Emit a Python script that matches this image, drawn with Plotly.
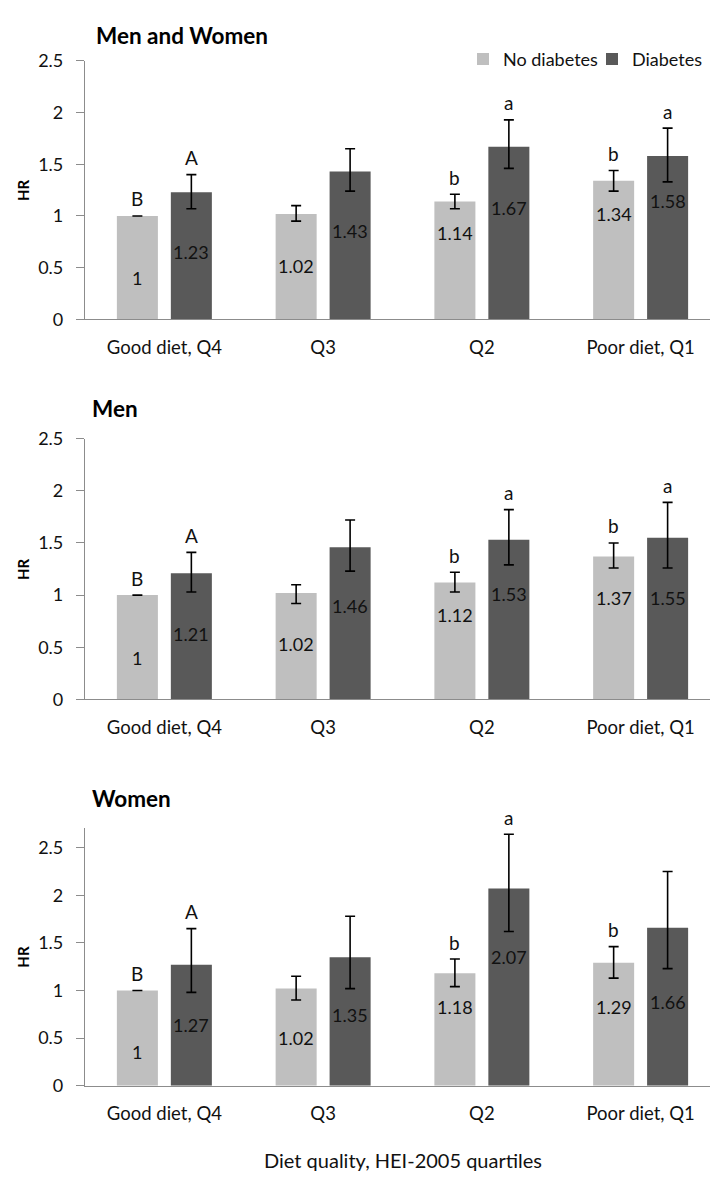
import plotly.graph_objects as go

# ---------------- data ----------------
categories = ["Good diet, Q4", "Q3", "Q2", "Poor diet, Q1"]
series_names = ["No diabetes", "Diabetes"]
panel_titles = ["Men and Women", "Men", "Women"]

# Men and Women
mw_nodiab = [1.00, 1.02, 1.14, 1.34]
mw_nodiab_lo = [1.00, 0.95, 1.07, 1.24]
mw_nodiab_hi = [1.00, 1.10, 1.21, 1.44]
mw_diab = [1.23, 1.43, 1.67, 1.58]
mw_diab_lo = [1.07, 1.24, 1.46, 1.33]
mw_diab_hi = [1.40, 1.65, 1.93, 1.85]
mw_nodiab_letters = ["B", "", "b", "b"]
mw_diab_letters = ["A", "", "a", "a"]

# Men
m_nodiab = [1.00, 1.02, 1.12, 1.37]
m_nodiab_lo = [1.00, 0.92, 1.03, 1.26]
m_nodiab_hi = [1.00, 1.10, 1.22, 1.50]
m_diab = [1.21, 1.46, 1.53, 1.55]
m_diab_lo = [1.03, 1.23, 1.29, 1.26]
m_diab_hi = [1.41, 1.72, 1.82, 1.89]
m_nodiab_letters = ["B", "", "b", "b"]
m_diab_letters = ["A", "", "a", "a"]

# Women
w_nodiab = [1.00, 1.02, 1.18, 1.29]
w_nodiab_lo = [1.00, 0.90, 1.04, 1.13]
w_nodiab_hi = [1.00, 1.15, 1.33, 1.46]
w_diab = [1.27, 1.35, 2.07, 1.66]
w_diab_lo = [0.98, 1.02, 1.62, 1.23]
w_diab_hi = [1.65, 1.78, 2.64, 2.25]
w_nodiab_letters = ["B", "", "b", "b"]
w_diab_letters = ["A", "", "a", ""]

x_title = "Diet quality, HEI-2005 quartiles"
y_title = "HR"

# ---------------- styling / layout ----------------
W, H = 718, 1178
FONT = "Lato"
LIGHT = "#BFBFBF"
DARK = "#595959"
AXIS = "#8C8C8C"
TXT = "#111111"

def px_x(p):
    return p / W

def px_y(p):
    return 1 - p / H

# panel pixel geometry (top of range, zero line)
panels = [
    dict(title=panel_titles[0], top=41.7, bottom=305, ymax=2.5, title_y=16, title_x=86,
         nd=mw_nodiab, nd_lo=mw_nodiab_lo, nd_hi=mw_nodiab_hi, d=mw_diab, d_lo=mw_diab_lo, d_hi=mw_diab_hi,
         ndl=mw_nodiab_letters, dl=mw_diab_letters,
         nd_shift=[-62, -52, -32, -33], d_shift=[-60, -59, -61, -45]),
    dict(title=panel_titles[1], top=426.7, bottom=692.3, ymax=2.5, title_y=396, title_x=82,
         nd=m_nodiab, nd_lo=m_nodiab_lo, nd_hi=m_nodiab_hi, d=m_diab, d_lo=m_diab_lo, d_hi=m_diab_hi,
         ndl=m_nodiab_letters, dl=m_diab_letters,
         nd_shift=[-63, -51, -32, -41], d_shift=[-61, -59, -54, -60]),
    dict(title=panel_titles[2], top=823, bottom=1086, ymax=2.71, title_y=793, title_x=82,
         nd=w_nodiab, nd_lo=w_nodiab_lo, nd_hi=w_nodiab_hi, d=w_diab, d_lo=w_diab_lo, d_hi=w_diab_hi,
         ndl=w_nodiab_letters, dl=w_diab_letters,
         nd_shift=[-62, -49, -34, -44], d_shift=[-60, -58, -68, -74]),
]

X_LEFT, X_RIGHT = 77, 712
BAR_OFFSET = 27
LETTER_SHIFT = 17

fig = go.Figure()
annotations = []
layout_axes = {}

for i, p in enumerate(panels):
    k = "" if i == 0 else str(i + 1)
    xa, ya = "x" + k, "y" + k
    for s, (name, vals, lo, hi, color) in enumerate([
        (series_names[0], p["nd"], p["nd_lo"], p["nd_hi"], LIGHT),
        (series_names[1], p["d"], p["d_lo"], p["d_hi"], DARK),
    ]):
        fig.add_trace(go.Bar(
            x=categories, y=vals, name=name, marker=dict(color=color, line=dict(width=0)),
            error_y=dict(type="data", symmetric=False,
                         array=[h - v for h, v in zip(hi, vals)],
                         arrayminus=[v - l for l, v in zip(lo, vals)],
                         color="#000000", thickness=1.6, width=5),
            xaxis=xa, yaxis=ya, showlegend=(i == 0), legendgroup=name,
            legend=("legend" if s == 0 else "legend2"),
            hoverinfo="skip",
        ))
    layout_axes["xaxis" + k] = dict(
        domain=[px_x(X_LEFT), px_x(X_RIGHT)], anchor=ya, type="category",
        showline=True, linecolor=AXIS, linewidth=1.2, ticks="", showgrid=False,
        tickfont=dict(family=FONT, size=18.5, color=TXT), ticklabelstandoff=11,
        zeroline=False,
    )
    layout_axes["yaxis" + k] = dict(
        domain=[px_y(p["bottom"]), px_y(p["top"])], anchor=xa,
        range=[0, p["ymax"]], dtick=0.5, tick0=0,
        showline=True, linecolor=AXIS, linewidth=1.2, ticks="outside", ticklen=8,
        tickcolor=AXIS, tickwidth=1.2, showgrid=False, zeroline=False,
        tickfont=dict(family=FONT, size=18, color=TXT), ticklabelstandoff=9,
    )
    # panel title
    annotations.append(dict(text="<b>%s</b>" % p["title"], xref="paper", yref="paper",
                            x=px_x(p["title_x"]), y=px_y(p["title_y"]), xanchor="left", yanchor="middle",
                            showarrow=False, font=dict(family=FONT, size=22.5, color="#000")))
    # y title
    annotations.append(dict(text="<b>%s</b>" % y_title, xref="paper", yref=ya + " domain",
                            x=px_x(15), y=0.5, xanchor="center", yanchor="middle", textangle=-90,
                            showarrow=False, font=dict(family=FONT, size=15, color="#000")))
    # value labels and letters
    for j, c in enumerate(categories):
        for vals, hi, letters, shifts, xs in [
            (p["nd"], p["nd_hi"], p["ndl"], p["nd_shift"], -BAR_OFFSET),
            (p["d"], p["d_hi"], p["dl"], p["d_shift"], BAR_OFFSET),
        ]:
            annotations.append(dict(text=("%g" % vals[j]), xref=xa, yref=ya, x=c, y=vals[j],
                                    xshift=xs, yshift=shifts[j], showarrow=False,
                                    xanchor="center", yanchor="middle",
                                    font=dict(family=FONT, size=18, color=TXT)))
            if letters[j]:
                annotations.append(dict(text=letters[j], xref=xa, yref=ya, x=c, y=hi[j],
                                        xshift=xs, yshift=LETTER_SHIFT, showarrow=False,
                                        xanchor="center", yanchor="middle",
                                        font=dict(family=FONT, size=19, color=TXT)))

# x axis title
annotations.append(dict(text=x_title, xref="paper", yref="paper",
                        x=px_x((X_LEFT + X_RIGHT) / 2), y=px_y(1162), xanchor="center", yanchor="middle",
                        showarrow=False, font=dict(family=FONT, size=20, color=TXT)))

legend_style = dict(orientation="h", yanchor="middle", y=px_y(40), xanchor="left",
                    font=dict(family=FONT, size=18, color=TXT), itemwidth=30,
                    bgcolor="rgba(0,0,0,0)", borderwidth=0)

fig.update_layout(
    width=W, height=H, margin=dict(l=0, r=0, t=0, b=0),
    paper_bgcolor="white", plot_bgcolor="white",
    barmode="group", bargap=0.32, bargroupgap=0.24,
    showlegend=True,
    legend=dict(x=px_x(455), **legend_style),
    legend2=dict(x=px_x(584), **legend_style),
    annotations=annotations,
    **layout_axes,
)

fig.write_html("out.html")
